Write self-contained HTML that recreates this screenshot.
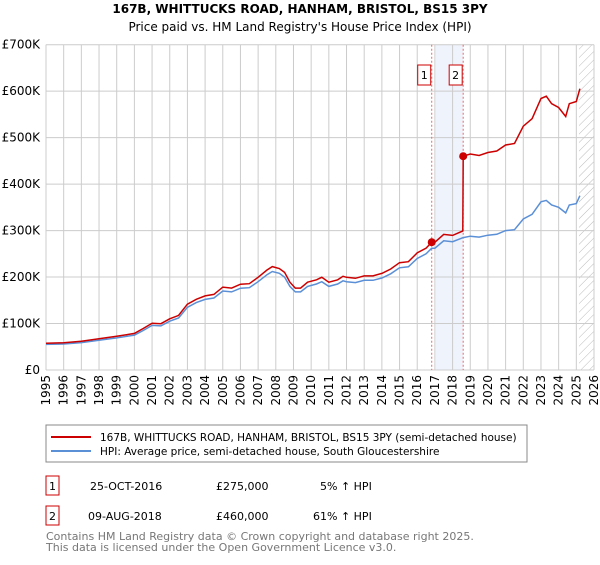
<!DOCTYPE html>
<html><head><meta charset="utf-8"><style>
body{margin:0;background:#fff;width:600px;height:560px;overflow:hidden;font-family:"Liberation Sans","DejaVu Sans",sans-serif}
svg text{font-family:"DejaVu Sans","Liberation Sans",sans-serif}
</style></head><body>
<svg id="c" width="600" height="560" xmlns="http://www.w3.org/2000/svg">
<text x="300" y="13" text-anchor="middle" font-size="12" font-weight="bold">167B, WHITTUCKS ROAD, HANHAM, BRISTOL, BS15 3PY</text>
<text x="300" y="31" text-anchor="middle" font-size="12">Price paid vs. HM Land Registry's House Price Index (HPI)</text>
<defs><pattern id="hatch" width="6" height="6" patternUnits="userSpaceOnUse" patternTransform="rotate(45)"><line x1="0" y1="0" x2="0" y2="6" stroke="#bbb" stroke-width="1"/></pattern></defs>
<g id="plot"></g>
<rect x="46" y="425" width="481" height="37" fill="#fff" stroke="#888"/>
<line x1="51" y1="437" x2="91" y2="437" stroke="#cc0000" stroke-width="2"/>
<text x="100" y="441" font-size="10.5">167B, WHITTUCKS ROAD, HANHAM, BRISTOL, BS15 3PY (semi-detached house)</text>
<line x1="51" y1="451" x2="91" y2="451" stroke="#5b8fd6" stroke-width="2"/>
<text x="100" y="455" font-size="10.5">HPI: Average price, semi-detached house, South Gloucestershire</text>
<g font-size="11">
<rect x="46" y="476" width="13" height="19" fill="#fff" stroke="#cc0000"/><text x="52.5" y="490" text-anchor="middle">1</text>
<text x="90" y="490">25-OCT-2016</text><text x="216" y="490">£275,000</text><text x="320" y="490">5% ↑ HPI</text></g>
<g font-size="11">
<rect x="46" y="506" width="13" height="19" fill="#fff" stroke="#cc0000"/><text x="52.5" y="520" text-anchor="middle">2</text>
<text x="88" y="520">09-AUG-2018</text><text x="216" y="520">£460,000</text><text x="313" y="520">61% ↑ HPI</text></g>
<text x="46" y="540" font-size="11" fill="#777">Contains HM Land Registry data © Crown copyright and database right 2025.</text>
<text x="46" y="551" font-size="11" fill="#777">This data is licensed under the Open Government Licence v3.0.</text>
</svg>
<script>
const hpiYears=[1995,1996,1997,1998,1999,2000,2000.5,2001,2001.5,2002,2002.5,2003,2003.5,2004,2004.5,2005,2005.5,2006,2006.5,2007,2007.5,2007.8,2008.2,2008.5,2008.8,2009.1,2009.4,2009.8,2010.3,2010.6,2011,2011.5,2011.8,2012,2012.5,2013,2013.5,2014,2014.5,2015,2015.5,2016,2016.5,2016.82,2017,2017.5,2018,2018.6,2019,2019.5,2020,2020.5,2021,2021.5,2022,2022.5,2023,2023.3,2023.6,2024,2024.4,2024.6,2025,2025.2];
const hpiValues=[55,56,59,64,69,75,85,96,95,105,112,135,145,152,155,170,168,176,177,190,205,212,208,200,180,168,168,180,185,190,180,185,192,190,188,193,193,198,207,220,222,240,250,262,262,278,276,285,288,286,290,292,300,302,325,335,362,365,355,350,338,355,358,375];
const saleYears=[2016.82,2018.6];
const salePrices=[275,460];
const yTicks=[0,100,200,300,400,500,600,700];
const yTickLabels=["£0","£100K","£200K","£300K","£400K","£500K","£600K","£700K"];
const xTicks=[1995,1996,1997,1998,1999,2000,2001,2002,2003,2004,2005,2006,2007,2008,2009,2010,2011,2012,2013,2014,2015,2016,2017,2018,2019,2020,2021,2022,2023,2024,2025,2026];
const L=46,R=594,T=44.7,B=370;
const X=t=>L+(t-1995)/(2026-1995)*(R-L);
const Y=v=>B-v/700*(B-T);
const g=document.getElementById('plot');
const NS='http://www.w3.org/2000/svg';
function mk(tag,a){const e=document.createElementNS(NS,tag);for(const k in a)e.setAttribute(k,a[k]);g.appendChild(e);return e;}
let e;
e=mk('rect',{x:X(2017.05),y:T,width:X(2018.6)-X(2017.05),height:B-T,fill:'#eef3fc'});


e=mk('rect',{x:X(2025.15),y:T,width:R-X(2025.15),height:B-T,fill:'url(#hatch)'});


xTicks.forEach(t=>{
 e=mk('line',{x1:X(t),x2:X(t),y1:T,y2:B,stroke:'#ccc'});
 
 
 e=mk('text',{x:0,y:0,'font-size':12,'text-anchor':'end',transform:`translate(${X(t)+4},${B+5}) rotate(-90)`});
 e.textContent=t;
 
 
});
yTicks.forEach((v,i)=>{
 e=mk('line',{x1:L,x2:R,y1:Y(v),y2:Y(v),stroke:'#ccc'});
 
 
 e=mk('text',{x:L-6,y:Y(v)+4,'font-size':12,'text-anchor':'end'});
 e.textContent=yTickLabels[i];
 
 
});
e=mk('line',{x1:L,x2:L,y1:T,y2:B,stroke:'#ccc'});


function interp(t){for(let i=1;i<hpiYears.length;i++){if(t<=hpiYears[i]){const a=hpiYears[i-1],b=hpiYears[i];return hpiValues[i-1]+(hpiValues[i]-hpiValues[i-1])*(t-a)/(b-a);}}return hpiValues[hpiValues.length-1];}
saleYears.forEach((s,i)=>{
 e=mk('line',{x1:X(s),x2:X(s),y1:T,y2:B,stroke:'#e66','stroke-dasharray':'2,2'});
 
 
});
let hp=hpiYears.map((t,i)=>`${X(t).toFixed(1)},${Y(hpiValues[i]).toFixed(1)}`).join(' ');
e=mk('polyline',{points:hp,fill:'none',stroke:'#5b8fd6','stroke-width':1.5});


const r1=salePrices[0]/interp(saleYears[0]), r2=salePrices[1]/interp(saleYears[1]);
let rp=[];
hpiYears.forEach((t,i)=>{
 if(t<saleYears[1]) rp.push([t,hpiValues[i]*r1]);
 else { if(rp.length && rp[rp.length-1][0]<saleYears[1]) rp.push([saleYears[1]-0.02,interp(saleYears[1])*r1]); rp.push([t,hpiValues[i]*r2]); }
});
e=mk('polyline',{points:rp.map(p=>`${X(p[0]).toFixed(1)},${Y(p[1]).toFixed(1)}`).join(' '),fill:'none',stroke:'#cc0000','stroke-width':1.5});


saleYears.forEach((s,i)=>{
 e=mk('circle',{cx:X(s),cy:Y(salePrices[i]),r:4,fill:'#cc0000'});
 
 
 e=mk('rect',{x:X(s)-14,y:65,width:13,height:20,fill:'#fff',stroke:'#cc0000'});
 
 
 e=mk('text',{x:X(s)-7.5,y:79,'font-size':11,'text-anchor':'middle'});
 e.textContent=String(i+1);
 
 
});
</script>
</body></html>
